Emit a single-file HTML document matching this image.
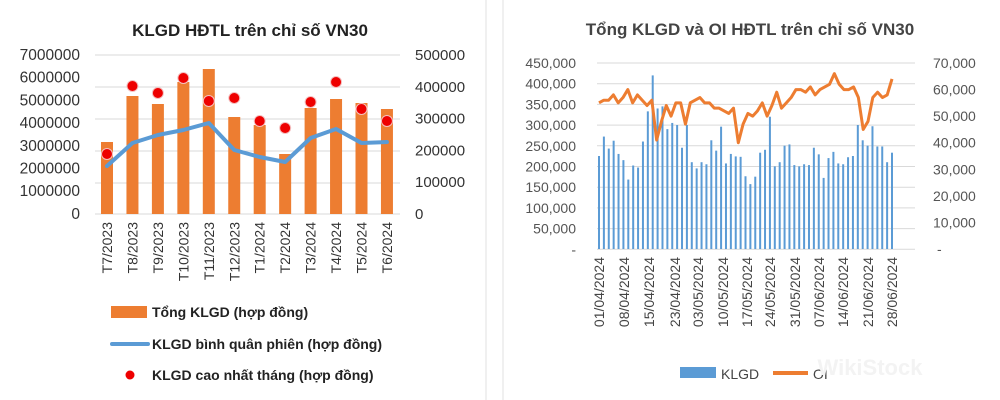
<!DOCTYPE html>
<html><head><meta charset="utf-8"><style>
body{margin:0;background:#fff;}
svg{display:block;font-family:"Liberation Sans","DejaVu Sans",sans-serif;}
</style></head><body>
<svg id="s" width="1000" height="400" viewBox="0 0 1000 400" xmlns="http://www.w3.org/2000/svg">
<rect width="1000" height="400" fill="#fff"/>
<line x1="486" y1="0" x2="486" y2="400" stroke="#e0e0e0"/>
<line x1="503" y1="0" x2="503" y2="400" stroke="#e0e0e0"/>
<text x="250" y="36" text-anchor="middle" font-size="17" font-weight="bold" fill="#222">KLGD HĐTL trên chỉ số VN30</text>
<text x="750" y="35" text-anchor="middle" font-size="17" font-weight="bold" fill="#444">Tổng KLGD và OI HĐTL trên chỉ số VN30</text>
<g id="g"></g>
<text x="870" y="375" text-anchor="middle" font-size="22" font-weight="bold" fill="#f3f3f3">WikiStock</text>
</svg>
<script>
var g=document.getElementById('g'),h='';
[55,87,119,151,183,214].forEach(function(y){h+='<line x1="95" x2="400" y1="'+y+'" y2="'+y+'" stroke="#d9d9d9"/>';});
var ll=['7000000','6000000','5000000','4000000','3000000','2000000','1000000','0'];
ll.forEach(function(t,i){h+='<text x="80" y="'+(60+i*22.7)+'" text-anchor="end" font-size="15.5" fill="#333">'+t+'</text>';});
['500000','400000','300000','200000','100000','0'].forEach(function(t,i){h+='<text x="415" y="'+(60+i*31.8)+'" font-size="15" fill="#333">'+t+'</text>';});
var cats=['T7/2023','T8/2023','T9/2023','T10/2023','T11/2023','T12/2023','T1/2024','T2/2024','T3/2024','T4/2024','T5/2024','T6/2024'];
var bt=[142,96,104,82,69,117,125,154,108,99,103,109];
var ln=[166,143,135,130,123,150,157,162,138,129,143,142];
var dt=[154,86,93,78,101,98,121,128,102,82,109,121];
var pts=[];
cats.forEach(function(c,i){var x=107+i*25.45;
h+='<rect x="'+(x-6)+'" y="'+bt[i]+'" width="12" height="'+(214-bt[i])+'" fill="#ed7d31"/>';
pts.push(x+','+ln[i]);
h+='<text transform="translate('+(x+5)+',222) rotate(-90)" text-anchor="end" font-size="14" fill="#333">'+c+'</text>';});
h+='<polyline points="'+pts.join(' ')+'" fill="none" stroke="#5b9bd5" stroke-width="4" stroke-linejoin="round" stroke-linecap="round"/>';
cats.forEach(function(c,i){var x=107+i*25.45;h+='<circle cx="'+x+'" cy="'+dt[i]+'" r="5.5" fill="#e00" stroke="#f4c0c0" stroke-width="1"/>';});
h+='<rect x="111" y="306" width="36" height="12" fill="#ed7d31"/><text x="152" y="317" font-size="14" font-weight="bold" fill="#222">Tổng KLGD (hợp đồng)</text>';
h+='<line x1="112" x2="148" y1="344" y2="344" stroke="#5b9bd5" stroke-width="4" stroke-linecap="round"/><text x="152" y="349" font-size="14" font-weight="bold" fill="#222">KLGD bình quân phiên (hợp đồng)</text>';
h+='<circle cx="130" cy="375" r="4.5" fill="#e00"/><text x="152" y="380" font-size="14" font-weight="bold" fill="#222">KLGD cao nhất tháng (hợp đồng)</text>';
for(var i=0;i<10;i++){var y=63+i*20.7;h+='<line x1="597" x2="915" y1="'+y+'" y2="'+y+'" stroke="#d9d9d9"/>';
var v=450-i*50;h+='<text x="576" y="'+(y+5)+'" text-anchor="end" font-size="14" fill="#555">'+(v?v+',000':'-')+'</text>';}
for(var i=0;i<8;i++){var y=63+i*26.57;var v=70-i*10;h+='<text x="'+(v?933:937)+'" y="'+(y+5)+'" font-size="14" fill="#555">'+(v?v+',000':'-')+'</text>';}
var kl=[225,272,243,262,230,215,168,202,197,260,333,420,340,345,290,305,300,245,300,210,195,210,205,263,238,296,207,230,224,223,176,157,175,233,240,320,200,210,250,253,203,200,205,203,245,229,172,220,235,207,205,222,225,300,263,250,297,248,248,210,233];
var n=kl.length,sp=(892-599)/(n-1);
kl.forEach(function(v,i){var x=599+i*sp,y=249-v*186/450;h+='<rect x="'+(x-1)+'" y="'+y+'" width="2" height="'+(249-y)+'" fill="#5b9bd5"/>';});
var oi=[55,56,56,58,55,57,60,55,58,56,54,56,41,48,54,50,55,55,47,55,56,57,55,55,53,53,52,51,53,40,47,51,50,52,55,50,54,59,53,55,57,60,60,59,61,58,60,61,62,66,62,60,60,61,57,45,48,57,59,57,58,64];
var sp2=(892-599)/(oi.length-1),p2=[];
oi.forEach(function(v,i){p2.push((599+i*sp2)+','+(249-v*186/70));});
h+='<polyline points="'+p2.join(' ')+'" fill="none" stroke="#ed7d31" stroke-width="3" stroke-linejoin="round"/>';
var dl=['01/04/2024','08/04/2024','15/04/2024','23/04/2024','03/05/2024','10/05/2024','17/05/2024','24/05/2024','31/05/2024','07/06/2024','14/06/2024','21/06/2024','28/06/2024'];
var dx=[599,624,649,675,698,723,747,770,795,819,843,868,892];
dl.forEach(function(t,i){h+='<text transform="translate('+(dx[i]+5)+',257) rotate(-90)" text-anchor="end" font-size="14" fill="#444">'+t+'</text>';});
h+='<rect x="680" y="367" width="36" height="11" fill="#5b9bd5"/><text x="721" y="379" font-size="14" fill="#444">KLGD</text>';
h+='<line x1="773" x2="808" y1="373" y2="373" stroke="#ed7d31" stroke-width="4"/><text x="813" y="379" font-size="14" fill="#444">OI</text>';
g.innerHTML=h;
</script>
</body></html>
